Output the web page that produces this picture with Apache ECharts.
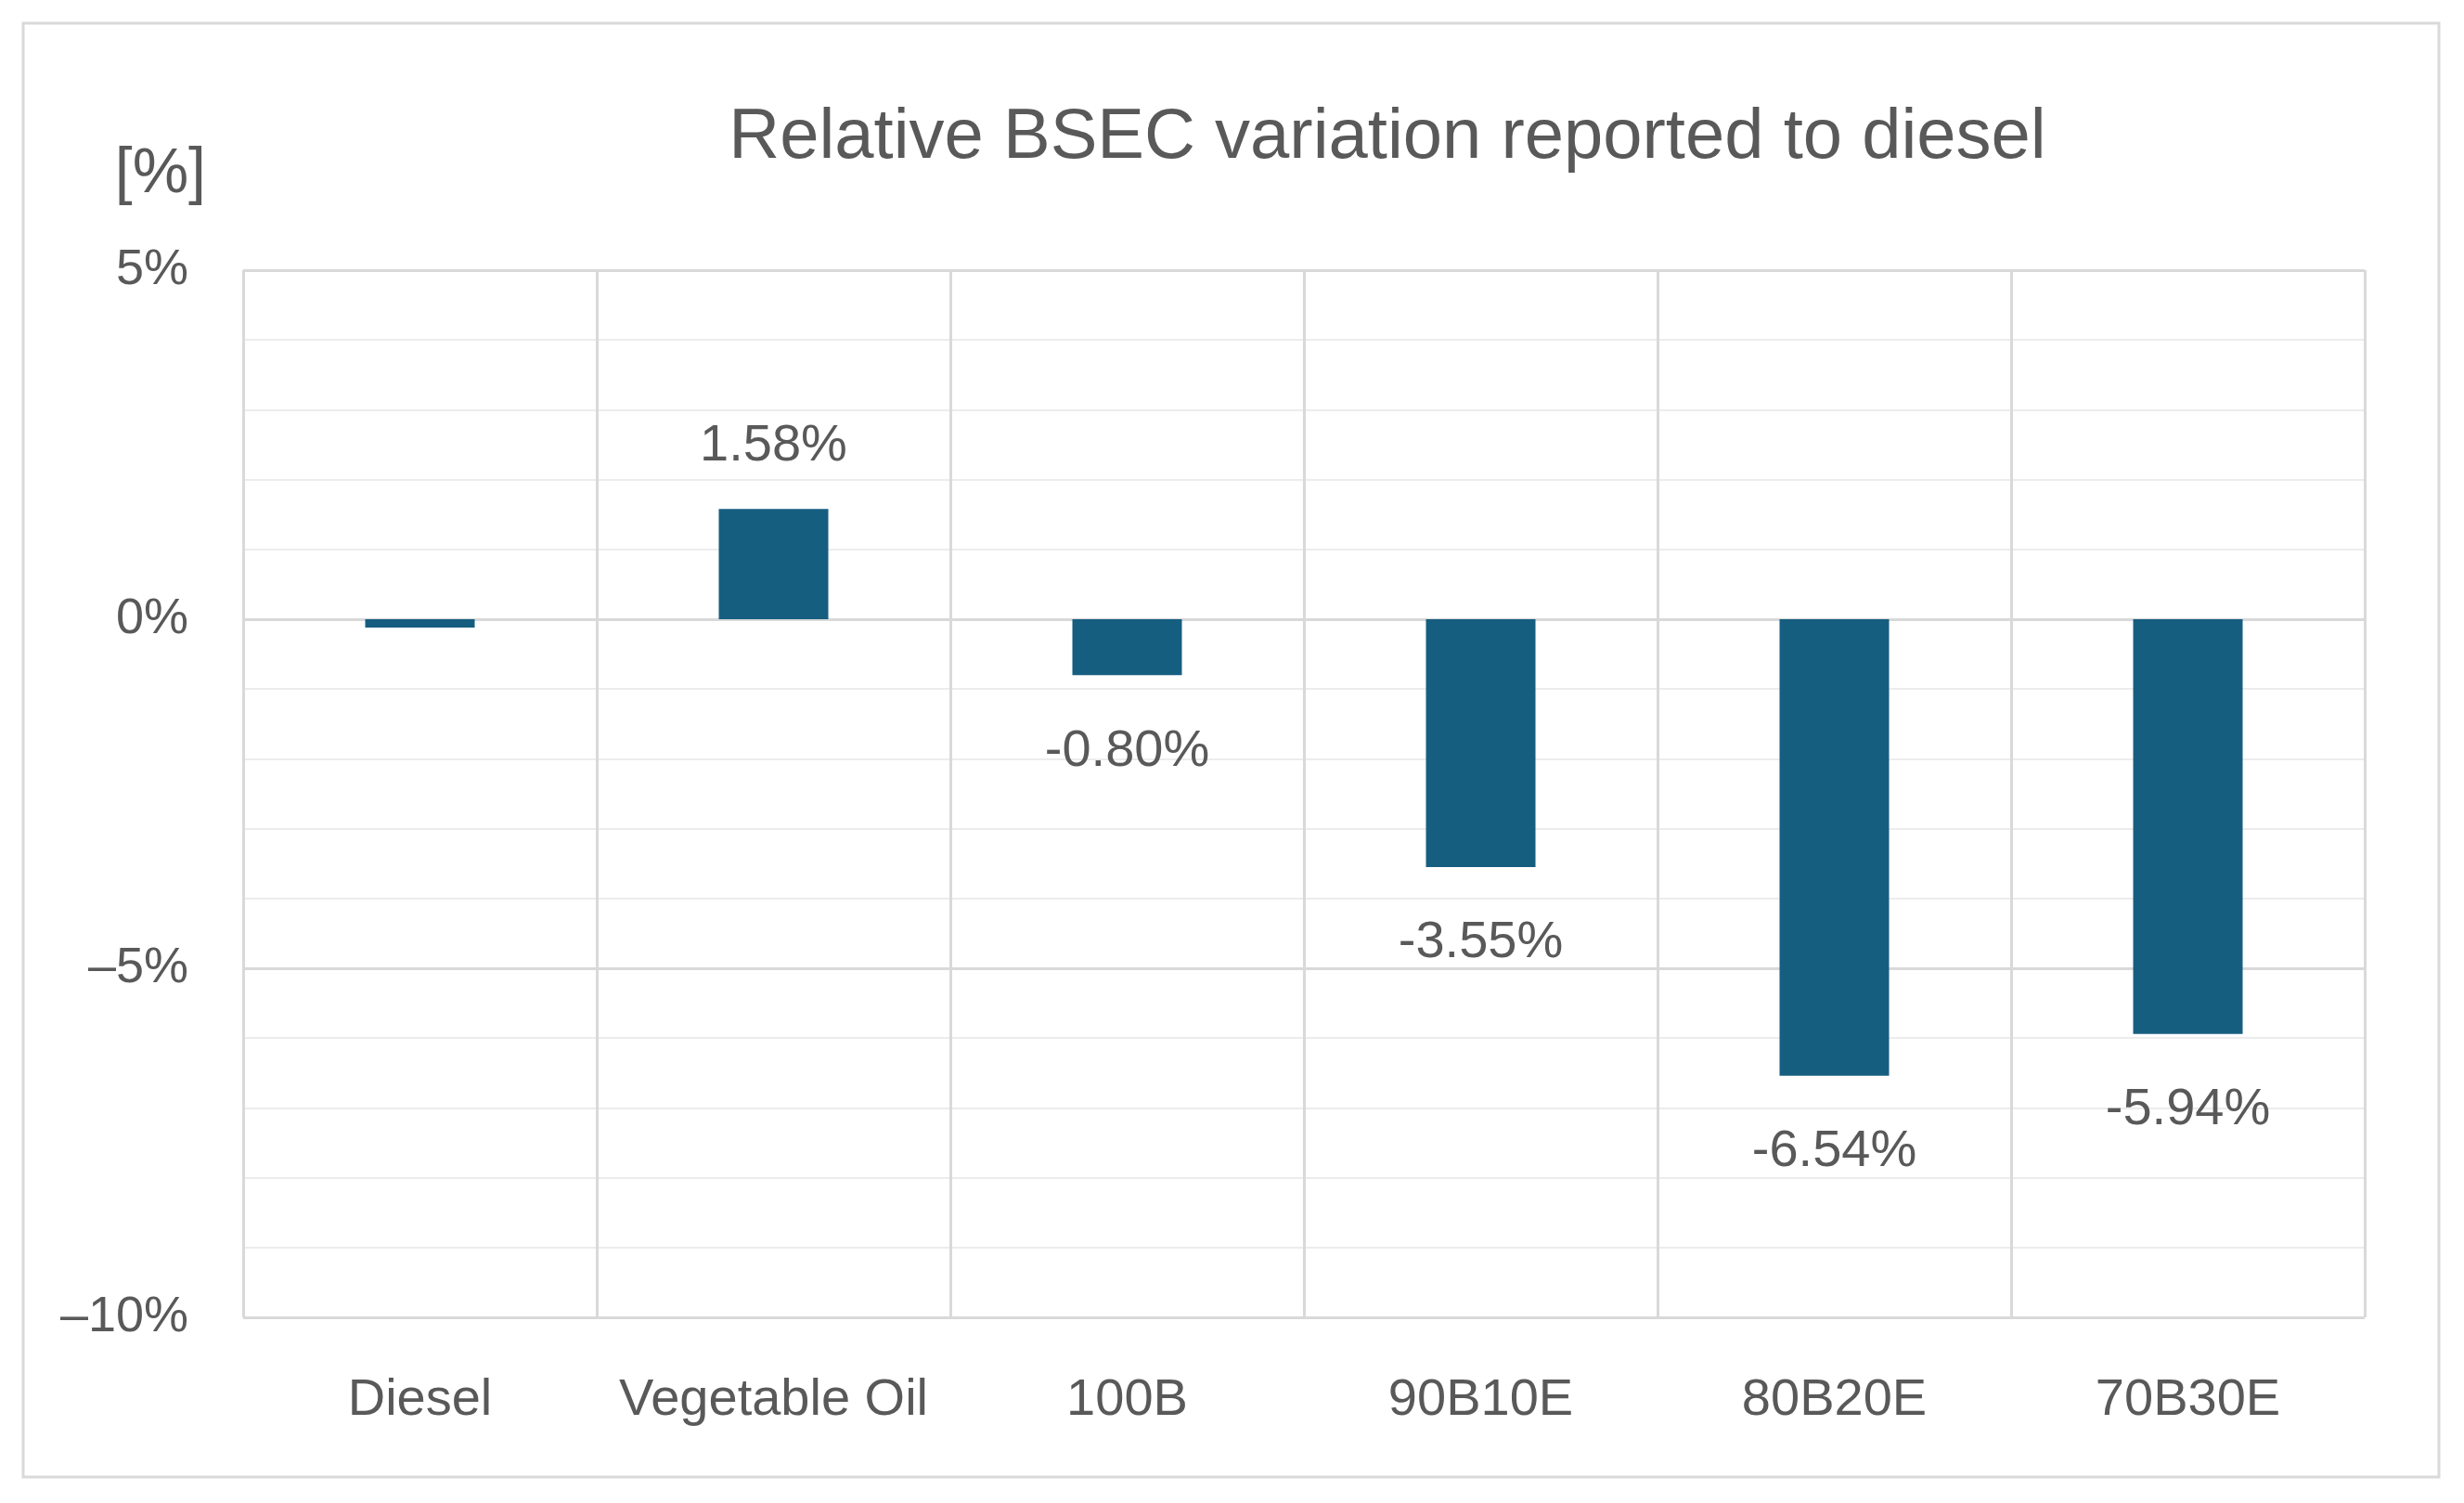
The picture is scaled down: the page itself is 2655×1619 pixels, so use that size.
<!DOCTYPE html>
<html>
<head>
<meta charset="utf-8">
<script src="https://cdn.jsdelivr.net/npm/echarts@6/dist/echarts.min.js"></script>
<style>html,body{margin:0;padding:0;background:#fff;}#c{width:2655px;height:1619px;}</style>
</head>
<body>
<div id="c"></div>
<script>
const categories = ['Diesel', 'Vegetable Oil', '100B', '90B10E', '80B20E', '70B30E'];
const values = [-0.12, 1.58, -0.80, -3.55, -6.54, -5.94];
const showLabel = [false, true, true, true, true, true];
const yTicks = [-10, -5, 0, 5];

const FONT = "'Liberation Sans', Arial, sans-serif";
const TXT = '#595959';
const chart = echarts.init(document.getElementById('c'));
chart.setOption({
  backgroundColor: '#ffffff',
  animation: false,
  title: {
    text: 'Relative BSEC variation reported to diesel',
    left: 1490, top: 106, textAlign: 'center',
    textStyle: { fontFamily: FONT, fontSize: 76, fontWeight: 'normal', color: TXT }
  },
  graphic: [
    { type: 'rect', shape: { x: 25, y: 25, width: 2603, height: 1566 }, style: { fill: 'none', stroke: '#d9d9d9', lineWidth: 3 }, silent: true },
    { type: 'text', x: 222, y: 188, style: { text: '[%]', fontFamily: FONT, fontSize: 68, fill: TXT, align: 'right', verticalAlign: 'middle' } }
  ],
  grid: { left: 262, right: 107, top: 291, bottom: 200, containLabel: false },
  xAxis: {
    type: 'category', data: categories,
    axisLine: { show: false },
    axisTick: { show: false },
    splitLine: { show: true, interval: 0, lineStyle: { color: '#d9d9d9', width: 3 } },
    axisLabel: { interval: 0, margin: 62, fontFamily: FONT, fontSize: 56, color: TXT }
  },
  yAxis: {
    type: 'value', min: yTicks[0], max: yTicks[yTicks.length - 1], interval: 5,
    axisLine: { show: false }, axisTick: { show: false },
    splitLine: { show: true, lineStyle: { color: '#d9d9d9', width: 3 } },
    minorTick: { show: false, splitNumber: 5 },
    minorSplitLine: { show: true, lineStyle: { color: '#ececec', width: 2 } },
    axisLabel: {
      margin: 59, fontFamily: FONT, fontSize: 54, color: TXT, padding: [14, 0, 0, 0],
      formatter: v => (v < 0 ? '\u2013' + Math.abs(v) : v) + '%'
    }
  },
  series: [{
    type: 'bar', barWidth: 118,
    itemStyle: { color: '#165e80' },
    data: values.map((v, i) => ({
      value: v,
      label: {
        show: showLabel[i],
        position: v >= 0 ? 'top' : 'bottom',
        distance: v >= 0 ? 40 : 54,
        fontFamily: FONT, fontSize: 56, color: TXT,
        formatter: p => (p.value < 0 ? '-' + Math.abs(p.value).toFixed(2) : p.value.toFixed(2)) + '%'
      }
    }))
  }]
});
</script>
</body>
</html>
